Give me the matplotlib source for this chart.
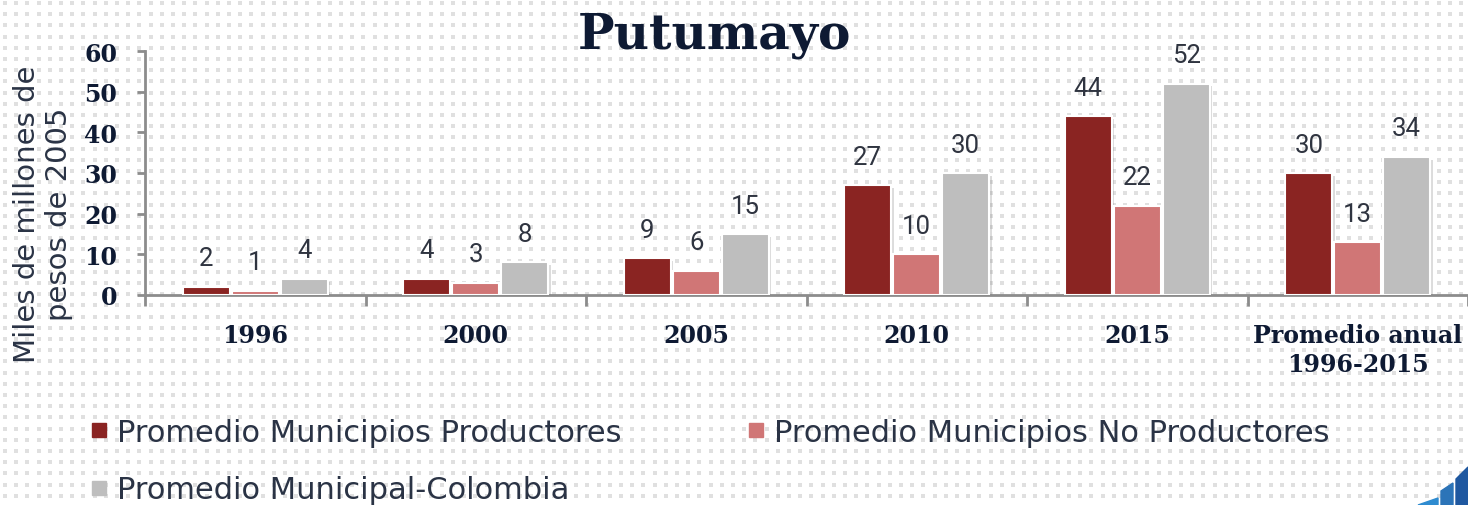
import matplotlib
matplotlib.use("Agg")
import matplotlib.pyplot as plt
import matplotlib.patheffects as pe
from matplotlib.lines import Line2D
from matplotlib.patches import Polygon
import numpy as np

# datos
categorias = ["1996", "2000", "2005", "2010", "2015", "Promedio anual\n1996-2015"]
productores = [2, 4, 9, 27, 44, 30]
no_productores = [1, 3, 6, 10, 22, 13]
colombia = [4, 8, 15, 30, 52, 34]
series = ["Promedio Municipios Productores",
          "Promedio Municipios No Productores",
          "Promedio Municipal-Colombia"]
colores = ["#8A2422", "#D07676", "#BEBEBE"]

navy = "#0E1A33"
texto = "#2A3345"

fig = plt.figure(figsize=(14.68, 5.06), dpi=100)
fig.patch.set_facecolor("white")

# fondo punteado
bg = fig.add_axes([0, 0, 1, 1], zorder=-10)
bg.set_xlim(0, 1468)
bg.set_ylim(506, 0)
bg.axis("off")
gx, gy = np.meshgrid(np.arange(5, 1468, 11.2), np.arange(4, 506, 11.2))
bg.scatter(gx.ravel(), gy.ravel(), marker="s", s=5, color="#E0E0E0", linewidths=0)

ax = fig.add_axes([145 / 1468, 1 - 296 / 506, 1 - 145 / 1468, (296 - 52) / 506])
ax.patch.set_alpha(0)

x = np.arange(len(categorias))
ancho = 0.212
sombra = [pe.SimplePatchShadow(offset=(2, -2), alpha=0.25, shadow_rgbFace="#777777"), pe.Normal()]
for i, (vals, col) in enumerate(zip([productores, no_productores, colombia], colores)):
    pos = x + (i - 1) * (ancho + 0.01)
    barras = ax.bar(pos, vals, ancho, color=col, edgecolor="white", linewidth=1.5,
                    label=series[i], zorder=3)
    for b in barras:
        b.set_path_effects(sombra)
    for p, v in zip(pos, vals):
        ax.text(p, v + 7, str(v), ha="center", va="center", fontsize=18.5,
                color="#2F3440", family="Roboto")

ax.set_xlim(-0.5, 5.467)
ax.set_ylim(0, 60)
ax.set_yticks(range(0, 61, 10))
ax.set_xticks(x)
ax.set_xticklabels(categorias, fontsize=17, fontweight="bold", family="DejaVu Serif",
                   color=navy, linespacing=1.3)
ax.set_xticks(np.arange(-0.5, 6, 1), minor=True)
ax.tick_params(axis="x", which="major", length=0, pad=20)
ax.tick_params(axis="x", which="minor", length=8, width=2, color="#8C8C8C", direction="out")
ax.tick_params(axis="y", length=6, width=2, color="#8C8C8C", pad=14)
for lbl in ax.get_yticklabels():
    lbl.set_fontsize(17)
    lbl.set_fontweight("bold")
    lbl.set_family("DejaVu Serif")
    lbl.set_color(navy)

for s in ["top", "right"]:
    ax.spines[s].set_visible(False)
for s in ["left", "bottom"]:
    ax.spines[s].set_color("#8C8C8C")
    ax.spines[s].set_linewidth(2)

fig.text(0.487, 0.93, "Putumayo", ha="center", va="center", fontsize=35,
         fontweight="bold", family="DejaVu Serif", color=navy)

fig.text(43 / 1468, 1 - 214 / 506, "Miles de millones de\npesos de 2005", rotation=90,
         ha="center", va="center", multialignment="center", fontsize=21,
         family="DejaVu Sans", color=texto, linespacing=1.22)

# leyenda: fila 1 productores / no productores, fila 2 Colombia
marcas = [Line2D([], [], marker="s", ls="", markersize=9.5, color=c) for c in colores]
orden = [0, 2, 1]
fig.legend([marcas[i] for i in orden], [series[i] for i in orden], ncol=2,
           loc="upper left", bbox_to_anchor=(90 / 1468, 1 - 419 / 506),
           frameon=False, fontsize=22, labelcolor=texto, handletextpad=0.28,
           columnspacing=4.1, labelspacing=0.93, handlelength=0.6,
           borderpad=0, borderaxespad=0)

# esquina azul
for pts, c in [([(1418, 506), (1438, 499), (1438, 506)], "#2E8BD0"),
               ([(1441, 506), (1441, 492), (1453, 484), (1453, 506)], "#2C74B8"),
               ([(1456, 506), (1456, 480), (1468, 468), (1468, 506)], "#1F58A0")]:
    bg.add_patch(Polygon(pts, closed=True, color=c, zorder=2))

fig.savefig("out.png", dpi=100)
